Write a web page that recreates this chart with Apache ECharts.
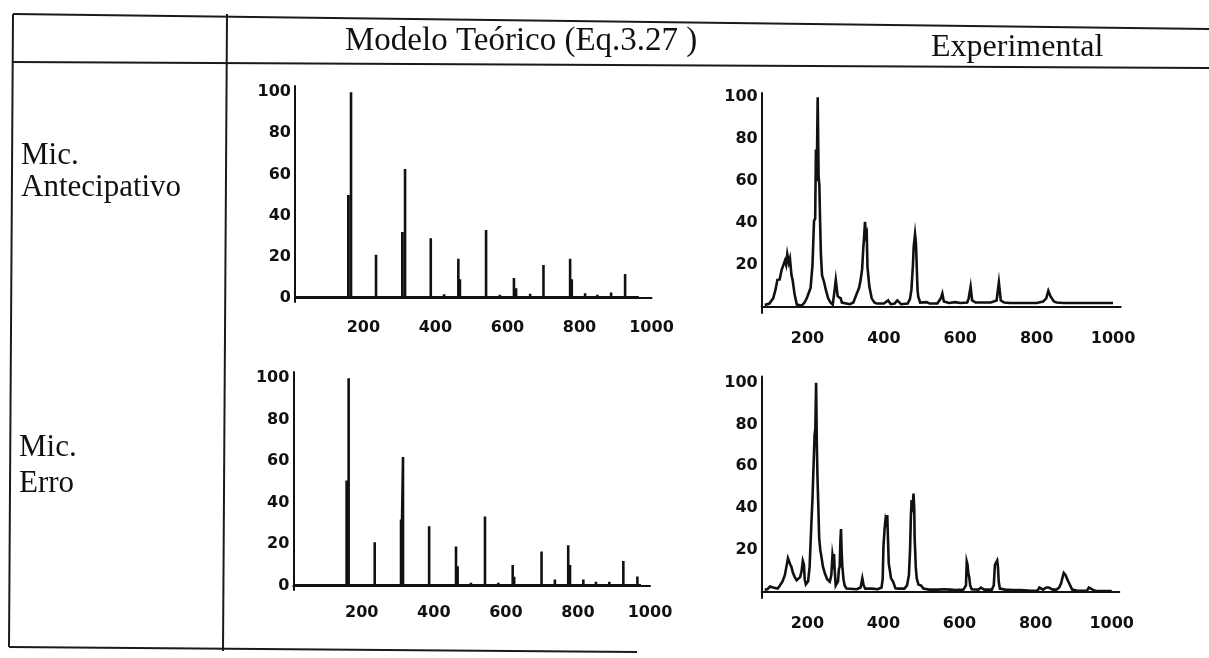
<!DOCTYPE html>
<html>
<head>
<meta charset="utf-8">
<script src="https://cdn.jsdelivr.net/npm/echarts@6/dist/echarts.min.js"></script>
<style>
html,body{margin:0;padding:0;background:#fff;}
#c{width:1209px;height:658px;}
</style>
</head>
<body>
<div id="c"></div>
<script>
// ---- texts ----
const colHeaders = ['Modelo Teórico (Eq.3.27 )', 'Experimental'];
const rowHeaders = [['Mic.', 'Antecipativo'], ['Mic.', 'Erro']];

// ---- tick labels ----
const xTicks = [200, 400, 600, 800, 1000];
const yTicksTheo = [0, 20, 40, 60, 80, 100];
const yTicksExp = [20, 40, 60, 80, 100];

// ---- theoretical spectra: [frequency, amplitude] of each line ----
const theoAntecipativo = [[158,50],[165.6,100],[200,0.8],[235,21],[274,0.8],[308,32],[315.6,62.6],[387,29],[424,1.8],[463.6,19],[468,9],[505,0.8],[540.6,33],[579,1.5],[618,9.7],[624,4.7],[663,2],[700,16],[737,0.8],[774,19],[778.6,9],[815.6,2.3],[849.7,1.5],[887.8,2.6],[926.7,11.6]];
const theoErro = [[158,50.8],[163.6,100],[200,0.5],[236,21],[273,1.2],[309,32],[314.5,62],[350,1.2],[387,28.7],[424,0.5],[461.6,19],[466,9.4],[503,1.5],[542,33.4],[579,1.5],[619,10],[623,4.4],[660,0.5],[699,16.5],[736,3],[773,19.5],[778,10],[815,3],[850,2],[887,2],[926,12],[965,4.5]];

// ---- experimental spectra: [frequency, amplitude] ----
const expAntecipativo = [[88,0.8],[100,1.5],[110,4],[116,8],[121,12.7],[127,13],[132,17.5],[137,18],[141,22],[144,20],[147,25],[151,21],[154,23],[158,15],[161,12.7],[166,6],[172,1],[185,0.5],[192,2],[198,4],[204,7],[208,9],[213,20],[217,41],[220,42],[222,75],[224,60],[226.6,100],[229,62],[231,58],[233,40],[235,25],[238,15],[243,12],[248,8],[254,4],[260,2],[266,1],[271,8],[274,12.7],[277,8],[279,5],[283,5.5],[287,4],[290,2],[294,1.2],[311,1.2],[320,2],[329,6.3],[335,9],[339,12.7],[343,18],[346,28],[348,33],[350.5,40.5],[353,34],[355,35],[357,19],[359,15],[362,9.5],[368,4],[375,2],[381,1.5],[400,1.5],[411,3],[418,1.2],[428,1.5],[435,3],[445,1.2],[462,1.5],[468,3.5],[472,8],[476,20],[478,28.6],[481.5,34.6],[484,30],[486,19],[488,8],[490,4.8],[495,2],[512,2.2],[520,1.5],[540,1.5],[549,4],[553,6.3],[557,2.5],[570,1.8],[586,2.2],[600,1.8],[618,2],[622,4],[627,9.5],[631,3],[640,2],[680,2],[695,3],[701,11.6],[706,3],[715,2],[730,1.8],[760,1.8],[800,1.8],[817,2.5],[825,4],[830.5,7.6],[836,5],[845,2.5],[852,2],[870,1.8],[900,1.8],[1000,1.8]];
const expErro = [[88,1],[95,1.2],[102,2.5],[106,3],[110,2],[115,2],[122,1.5],[128,3],[135,5],[141,8],[145,12],[149,16],[152,15.5],[155,13],[158,12],[162,9],[167,7],[172,5.5],[176,5.5],[181,7],[185,10],[188,14.8],[191,13],[193,6],[196,3.5],[199,3],[202,5],[206,12],[210,30],[213.5,44.7],[216,45],[219,75],[221,78],[223,100],[225,70],[226.6,55],[229,40],[231,26],[234,20],[237,16.7],[241,12],[246,8.8],[252,6],[259,4.8],[263,8],[266,17.5],[268,15],[270,18],[272,10],[274.5,3],[278,3],[280.6,5],[283,11],[285,12],[287,25],[288.5,30],[290,20],[292,12],[295,6],[298,3],[303,1.5],[307,1],[330,1.2],[340,2],[344.5,6.4],[348,3],[352,1.5],[370,1.5],[385,1.2],[395,2],[398,6],[400,21.5],[403,30],[405.5,34.6],[408,33],[410,36.7],[412,25],[414,13.5],[417,10],[420,6.4],[425,5],[431.6,1.6],[440,1.5],[455,1.5],[462,3],[467,8],[470,20],[472,35],[474,43.8],[476,38],[479,47],[481,40],[482,26],[485,12],[487.5,6.4],[492,3.5],[499,3],[505,1.5],[520,1],[545,1],[560,1.2],[575,1],[590,0.8],[610,1],[617,3],[619,14.4],[621,13],[623,9],[625.5,7],[628,3],[632,1.2],[650,1],[656,2],[660,2],[665,1],[685,1],[690,3],[693,12.8],[696,14],[699,15],[701,12],[703,5],[706,1.5],[720,1],[740,0.8],[760,0.8],[790,0.5],[805,0.5],[810,2],[815,2],[820,1],[828,2],[835,2],[845,1],[855,1],[862,2],[867,4],[871,7],[874,9],[878.6,8],[883,6],[887,5.5],[891,3],[896,1],[910,0.5],[935,0.5],[940,2],[945,2],[950,1],[960,0.3],[1000,0.3]];

// stick spectrum: each line rises from the baseline to its amplitude and back
function sticks(lines, start, end, base) {
  const d = [[start, base]];
  lines.forEach(([f, a]) => { d.push([f, base], [f, a], [f, base]); });
  d.push([end, base]);
  return d;
}

const INK = '#111';
const labelFont = {fontFamily: 'DejaVu Sans', fontWeight: 'bold', fontSize: 16, color: INK, formatter: v => String(v)};

// panel frames (pixel layout only)
const panels = [
  {left: 295, top: 86, width: 356.5, height: 216, xmin: 10, xmax: 1000, ymin: -2, ymax: 103, yTicks: yTicksTheo, xMargin: 18},
  {left: 761.7, top: 93, width: 359, height: 220, xmin: 80, xmax: 1020, ymin: -3, ymax: 102, yTicks: yTicksExp, xMargin: 18},
  {left: 293.3, top: 372, width: 356.7, height: 218, xmin: 10, xmax: 1000, ymin: -2, ymax: 103, yTicks: yTicksTheo, xMargin: 15},
  {left: 761.7, top: 376.4, width: 357.6, height: 221.6, xmin: 80, xmax: 1020, ymin: -3, ymax: 103, yTicks: yTicksExp, xMargin: 18}
];
const seriesData = [
  sticks(theoAntecipativo, 10, 965, 0.3),
  expAntecipativo.map(p => p.slice()),
  sticks(theoErro, 10, 975, 0.3),
  expErro.map(p => p.slice())
];

const chart = echarts.init(document.getElementById('c'), null, {renderer: 'canvas'});

const option = {
  animation: false,
  backgroundColor: '#fff',
  grid: panels.map(p => ({left: p.left, top: p.top, width: p.width, height: p.height, containLabel: false, outerBoundsMode: 'none'})),
  xAxis: panels.map((p, i) => ({
    gridIndex: i, type: 'value', min: p.xmin, max: p.xmax,
    axisLine: {show: true, onZero: true, lineStyle: {color: INK, width: 2}},
    axisTick: {show: false},
    splitLine: {show: false},
    axisLabel: Object.assign({customValues: xTicks, margin: p.xMargin}, labelFont)
  })),
  yAxis: panels.map((p, i) => ({
    gridIndex: i, type: 'value', min: p.ymin, max: p.ymax,
    axisLine: {show: true, onZero: false, lineStyle: {color: INK, width: 2}},
    axisTick: {show: false},
    splitLine: {show: false},
    axisLabel: Object.assign({customValues: p.yTicks, margin: 4}, labelFont)
  })),
  series: seriesData.map((d, i) => ({
    type: 'line', xAxisIndex: i, yAxisIndex: i, data: d,
    showSymbol: false, symbol: 'none', silent: true,
    lineStyle: {color: INK, width: i % 2 === 0 ? 2.6 : 2.6, join: 'miter'}
  })),
  graphic: [
    {type: 'line', shape: {x1: 13, y1: 14, x2: 1209, y2: 29}, style: {stroke: '#1a1a1a', lineWidth: 2}},
    {type: 'line', shape: {x1: 13, y1: 62, x2: 1209, y2: 68}, style: {stroke: '#1a1a1a', lineWidth: 2}},
    {type: 'line', shape: {x1: 9, y1: 647, x2: 637, y2: 652}, style: {stroke: '#1a1a1a', lineWidth: 2}},
    {type: 'line', shape: {x1: 13, y1: 14, x2: 9, y2: 647}, style: {stroke: '#1a1a1a', lineWidth: 2}},
    {type: 'line', shape: {x1: 227, y1: 14, x2: 223, y2: 651}, style: {stroke: '#1a1a1a', lineWidth: 2}},
    {type: 'text', style: {x: 345, y: 58, text: colHeaders[0], font: '33px "Liberation Serif"', fill: INK, verticalAlign: 'bottom'}},
    {type: 'text', style: {x: 931, y: 64, text: colHeaders[1], font: '32px "Liberation Serif"', fill: INK, verticalAlign: 'bottom'}},
    {type: 'text', style: {x: 21, y: 171, text: rowHeaders[0][0], font: '31px "Liberation Serif"', fill: INK, verticalAlign: 'bottom'}},
    {type: 'text', style: {x: 21, y: 203, text: rowHeaders[0][1], font: '31px "Liberation Serif"', fill: INK, verticalAlign: 'bottom'}},
    {type: 'text', style: {x: 19, y: 463, text: rowHeaders[1][0], font: '31px "Liberation Serif"', fill: INK, verticalAlign: 'bottom'}},
    {type: 'text', style: {x: 19, y: 499, text: rowHeaders[1][1], font: '31px "Liberation Serif"', fill: INK, verticalAlign: 'bottom'}}
  ]
};
chart.setOption(option);
</script>
</body>
</html>
